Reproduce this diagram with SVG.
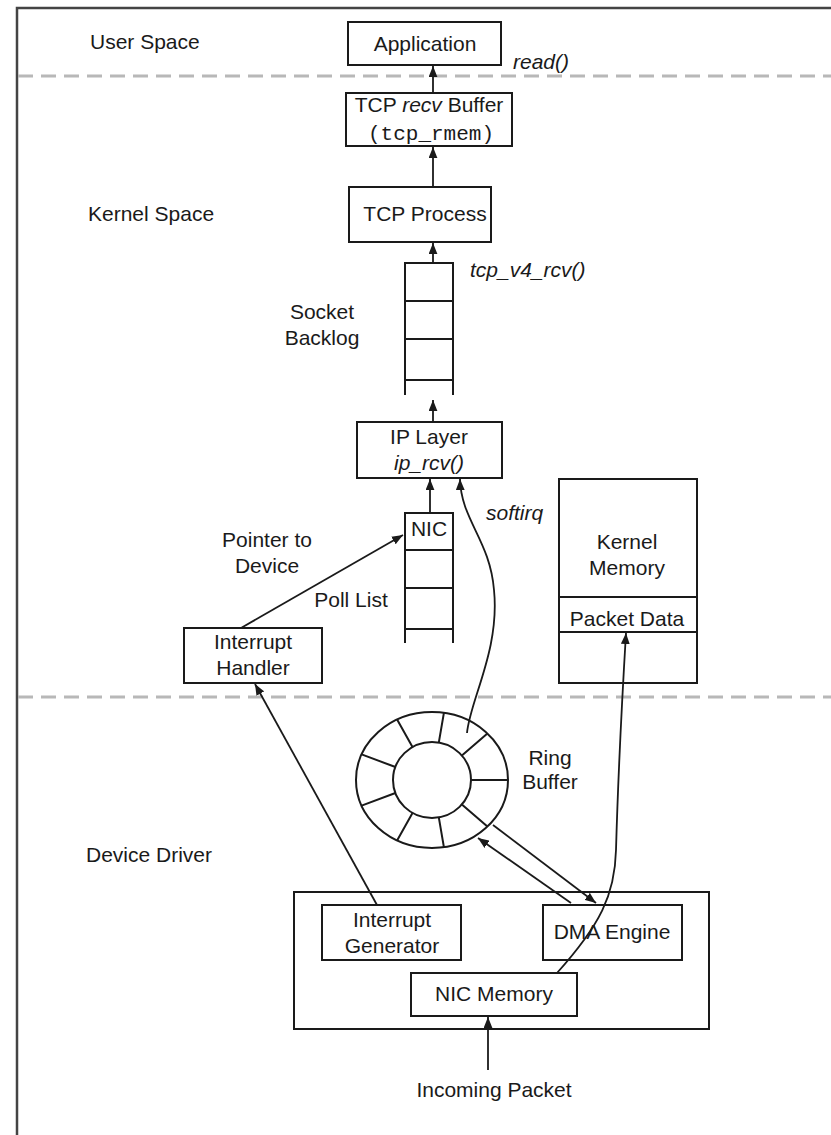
<svg xmlns="http://www.w3.org/2000/svg" width="831" height="1135" viewBox="0 0 831 1135">
<defs>
<style>
text{font-family:"Liberation Sans",Arial,sans-serif;font-size:21px;fill:#1a1a1a;text-anchor:middle}
.l{text-anchor:start}
.it{font-style:italic}
.mono{font-family:"Liberation Mono","Courier New",monospace;font-size:21px}
.box{fill:#fff;stroke:#1a1a1a;stroke-width:2}
.ln{fill:none;stroke:#1a1a1a;stroke-width:2}
.dash{fill:none;stroke:#b8b8b8;stroke-width:3;stroke-dasharray:15 8}
.frame{fill:none;stroke:#444;stroke-width:2.5}
.c{fill:none;stroke:#1a1a1a;stroke-width:1.8;marker-end:url(#ah)}
</style>
<marker id="ah" viewBox="0 0 10 8" refX="10" refY="4" markerWidth="11" markerHeight="9" markerUnits="userSpaceOnUse" orient="auto">
<path d="M0,0 L10,4 L0,8 z" fill="#1a1a1a"/>
</marker>
</defs>
<rect width="831" height="1135" fill="#fff"/>
<path class="frame" d="M17,1135 V8 H831"/>
<line class="dash" x1="18" y1="76" x2="831" y2="76"/>
<line class="dash" x1="18" y1="697" x2="831" y2="697"/>

<g id="labels">
<text class="l" x="90" y="49">User Space</text>
<text class="l" x="88" y="221">Kernel Space</text>
<text class="l" x="86" y="862">Device Driver</text>
<text class="l it" x="513" y="69">read()</text>
<text class="l it" x="470" y="277">tcp_v4_rcv()</text>
<text x="322" y="319">Socket</text>
<text x="322" y="345">Backlog</text>
<text class="l it" x="486" y="520">softirq</text>
<text x="267" y="547">Pointer to</text>
<text x="267" y="573">Device</text>
<text x="351" y="607">Poll List</text>
<text x="550" y="765">Ring</text>
<text x="550" y="789">Buffer</text>
<text x="494" y="1097">Incoming Packet</text>
</g>

<g id="application">
<rect class="box" x="348" y="22" width="153" height="43"/>
<text x="425" y="51">Application</text>
</g>
<g id="tcp-recv-buffer">
<rect class="box" x="346" y="93" width="166" height="53"/>
<text x="429" y="112">TCP <tspan class="it">recv</tspan> Buffer</text>
<text class="mono" x="431" y="140">(tcp_rmem)</text>
</g>
<g id="tcp-process">
<rect class="box" x="349" y="187" width="142" height="55"/>
<text x="425" y="221">TCP Process</text>
</g>
<g id="socket-backlog">
<path class="ln" d="M405,395 V263 H453 V395 M405,301 H453 M405,339 H453 M405,380 H453"/>
</g>
<g id="ip-layer">
<rect class="box" x="357" y="422" width="145" height="56"/>
<text x="429" y="444">IP Layer</text>
<text class="it" x="429" y="470">ip_rcv()</text>
</g>
<g id="poll-list">
<path class="ln" d="M405,643 V513 H453 V643 M405,550 H453 M405,588 H453 M405,629 H453"/>
<text x="429" y="536">NIC</text>
</g>
<g id="interrupt-handler">
<rect class="box" x="184" y="628" width="138" height="55"/>
<text x="253" y="649">Interrupt</text>
<text x="253" y="675">Handler</text>
</g>
<g id="kernel-memory">
<rect class="box" x="559" y="479" width="138" height="204"/>
<line class="ln" x1="559" y1="597" x2="697" y2="597"/>
<line class="ln" x1="559" y1="632" x2="697" y2="632"/>
<text x="627" y="549">Kernel</text>
<text x="627" y="575">Memory</text>
<text x="627" y="626">Packet Data</text>
</g>
<g id="ring-buffer">
<ellipse class="box" cx="432" cy="780" rx="76" ry="68"/>
<ellipse class="box" cx="432" cy="780" rx="39" ry="38"/>
<path class="ln" d="M471,780 L508,780 M461.9,804.4 L487.4,826.5 M438.8,817.4 L443.9,847.2 M412.5,812.9 L397.1,840.4 M395.4,793 L361.6,805.6 M395.4,767 L361.6,754.4 M412.5,747.1 L397.1,719.6 M438.8,742.6 L443.9,712.8 M461.9,755.6 L487.4,733.5"/>
</g>
<g id="nic">
<rect class="box" x="294" y="892" width="415" height="137"/>
</g>
<g id="interrupt-generator">
<rect class="box" x="322" y="905" width="139" height="55"/>
<text x="392" y="927">Interrupt</text>
<text x="392" y="953">Generator</text>
</g>
<g id="dma-engine">
<rect class="box" x="543" y="905" width="139" height="55"/>
<text x="612" y="939">DMA Engine</text>
</g>
<g id="nic-memory">
<rect class="box" x="411" y="973" width="166" height="43"/>
<text x="494" y="1001">NIC Memory</text>
</g>

<g id="connectors">
<line class="c" x1="433" y1="93" x2="433" y2="66"/>
<line class="c" x1="433" y1="187" x2="433" y2="147"/>
<line class="c" x1="433" y1="263" x2="433" y2="243"/>
<line class="c" x1="433" y1="422" x2="433" y2="400"/>
<line class="c" x1="430" y1="513" x2="430" y2="479"/>
<path class="c" d="M467,733 C470,700 500,650 494,590 C490,540 461,520 460,479"/>
<line class="c" x1="241" y1="628" x2="403" y2="535"/>
<line class="c" x1="377" y1="905" x2="255" y2="684"/>
<line class="c" x1="493" y1="825" x2="596" y2="903"/>
<line class="c" x1="571" y1="903" x2="478" y2="838"/>
<path class="c" d="M557,973 C600,925 615,895 616,850 C618,780 622,700 626,633"/>
<line class="c" x1="488" y1="1070" x2="488" y2="1017"/>
</g>
</svg>
